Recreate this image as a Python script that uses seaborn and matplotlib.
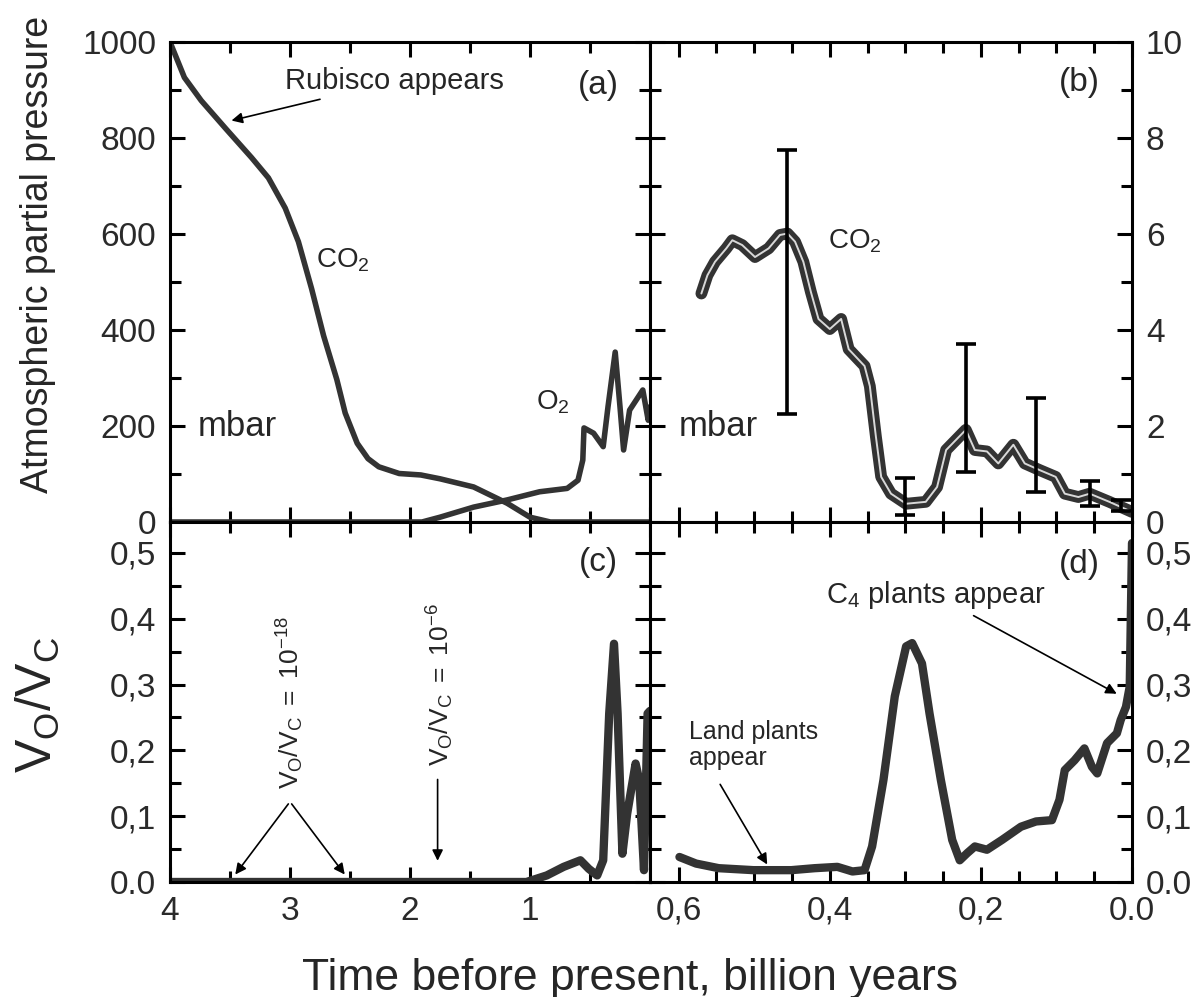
import matplotlib
matplotlib.use("Agg")
import matplotlib.pyplot as plt
import seaborn as sns

# panel (a): partial pressures in mbar vs time before present (Ga)
co2_t = [4.0, 3.88, 3.74, 3.53, 3.32, 3.18, 3.04, 2.93, 2.82, 2.72, 2.61, 2.54, 2.44,
         2.35, 2.26, 2.09, 1.91, 1.75, 1.47, 1.19, 1.0, 0.83, 0.5, 0.0]
co2_p = [1000, 926, 878, 818, 759, 717, 654, 584, 486, 388, 297, 227, 164,
         132, 115, 101, 98, 90, 73, 39, 10, 0, 0, 0]
o2_t = [4.0, 1.9, 1.75, 1.47, 1.19, 0.92, 0.69, 0.60, 0.56, 0.55, 0.47, 0.39, 0.35,
        0.29, 0.25, 0.22, 0.17, 0.06, 0.015, 0.0]
o2_p = [0, 0, 10, 31, 46, 63, 70, 87, 129, 196, 185, 157, 240,
        354, 240, 150, 233, 275, 212, 240]

# panel (b): CO2 (mbar), last 0.6 Ga, with error bars
co2b_t = [0.570, 0.562, 0.552, 0.537, 0.529, 0.516, 0.499, 0.481, 0.466, 0.456, 0.446,
          0.435, 0.425, 0.415, 0.400, 0.385, 0.375, 0.354, 0.347, 0.339, 0.332, 0.319,
          0.299, 0.273, 0.258, 0.246, 0.233, 0.220, 0.208, 0.192, 0.177, 0.157, 0.142,
          0.122, 0.101, 0.089, 0.071, 0.056, 0.030, 0.010, 0.0]
co2b_p = [4.76, 5.14, 5.42, 5.70, 5.87, 5.77, 5.52, 5.70, 5.98, 6.01, 5.84,
          5.42, 4.79, 4.23, 4.02, 4.23, 3.60, 3.25, 2.83, 1.78, 0.94, 0.59,
          0.38, 0.42, 0.73, 1.50, 1.71, 1.92, 1.50, 1.47, 1.22, 1.61, 1.22,
          1.08, 0.94, 0.59, 0.52, 0.59, 0.42, 0.28, 0.21]
err_t = [0.456, 0.300, 0.220, 0.127, 0.056, 0.015]
err_lo = [2.25, 0.15, 1.05, 0.62, 0.33, 0.22]
err_hi = [7.76, 0.92, 3.70, 2.58, 0.85, 0.45]

# panel (c): Vo/Vc over 4 Ga
vc_t = [4.0, 1.5, 1.03, 0.86, 0.72, 0.58, 0.51, 0.44, 0.39, 0.34, 0.30, 0.27, 0.23,
        0.19, 0.12, 0.09, 0.05, 0.02, 0.0]
vc_v = [0.0, 0.0, 0.0, 0.010, 0.023, 0.033, 0.020, 0.010, 0.033, 0.256, 0.362, 0.256, 0.043,
        0.104, 0.180, 0.155, 0.018, 0.256, 0.260]

# panel (d): Vo/Vc over last 0.6 Ga
vd_t = [0.599, 0.577, 0.547, 0.501, 0.451, 0.420, 0.390, 0.370, 0.354, 0.344, 0.329,
        0.314, 0.299, 0.291, 0.278, 0.268, 0.253, 0.238, 0.228, 0.218, 0.208, 0.192,
        0.172, 0.147, 0.127, 0.106, 0.096, 0.089, 0.076, 0.063, 0.053, 0.046, 0.033,
        0.020, 0.015, 0.008, 0.003, 0.0]
vd_v = [0.038, 0.028, 0.021, 0.018, 0.018, 0.021, 0.023, 0.016, 0.018, 0.054, 0.155,
        0.282, 0.358, 0.363, 0.332, 0.256, 0.155, 0.064, 0.033, 0.044, 0.054, 0.049,
        0.064, 0.084, 0.092, 0.094, 0.125, 0.170, 0.185, 0.203, 0.175, 0.165, 0.211,
        0.226, 0.246, 0.266, 0.297, 0.515]

left_xticks = [4, 3, 2, 1, 0]
left_xlabels = ["4", "3", "2", "1", ""]
right_xticks = [0.6, 0.4, 0.2, 0.0]
right_xlabels = ["0,6", "0,4", "0,2", "0.0"]
p_ticks = [0, 200, 400, 600, 800, 1000]
b_ticks = [0, 2, 4, 6, 8, 10]
v_ticks = [0.0, 0.1, 0.2, 0.3, 0.4, 0.5]
v_labels = ["0.0", "0,1", "0,2", "0,3", "0,4", "0,5"]

sns.set_style("ticks")
plt.rcParams["font.family"] = ["Liberation Sans", "DejaVu Sans"]
plt.rcParams["mathtext.fontset"] = "custom"
plt.rcParams["mathtext.rm"] = "Liberation Sans"
plt.rcParams["mathtext.it"] = "Liberation Sans"

ink = "#333333"
fig = plt.figure(figsize=(12, 9.97), dpi=100)
L, M, R = 170 / 1200, 650 / 1200, 1132 / 1200
T, MID, B = 1 - 42 / 997, 1 - 522 / 997, 1 - 882 / 997
ax_a = fig.add_axes([L, MID, M - L, T - MID])
ax_b = fig.add_axes([M, MID, R - M, T - MID])
ax_c = fig.add_axes([L, B, M - L, MID - B])
ax_d = fig.add_axes([M, B, R - M, MID - B])

for ax in (ax_a, ax_b, ax_c, ax_d):
    ax.tick_params(which="both", direction="in", top=True, right=True, bottom=True, left=True,
                   width=2.2, colors="black", labelcolor="#2a2a2a", labelsize=24, pad=10)
    ax.tick_params(which="major", length=11)
    ax.tick_params(which="minor", length=8)
    for s in ax.spines.values():
        s.set_linewidth(2.2)
        s.set_color("black")

arrow = dict(arrowstyle="-|>", color="black", lw=1.2, mutation_scale=16)

# (a)
sns.lineplot(x=co2_t, y=co2_p, ax=ax_a, color=ink, lw=4, sort=False, estimator=None)
sns.lineplot(x=o2_t, y=o2_p, ax=ax_a, color=ink, lw=4, sort=False, estimator=None)
ax_a.set_xlim(4, 0)
ax_a.set_ylim(0, 1000)
ax_a.set_xticks(left_xticks)
ax_a.set_xticks([3.5, 2.5, 1.5, 0.5], minor=True)
ax_a.set_yticks(p_ticks)
ax_a.set_yticks([100, 300, 500, 700, 900], minor=True)
ax_a.tick_params(labelbottom=False)
ax_a.text(0.43, 910, "(a)", fontsize=24, ha="center", va="center")
ax_a.text(2.78, 545, r"CO$_2$", fontsize=20, ha="left", va="center")
ax_a.text(0.95, 250, r"O$_2$", fontsize=20, ha="left", va="center")
ax_a.text(3.77, 198, "mbar", fontsize=25, ha="left", va="center")
ax_a.annotate("Rubisco appears", xy=(3.51, 835), xytext=(3.04, 918), fontsize=21,
              ha="left", va="center", arrowprops=arrow)

# (b)
sns.lineplot(x=co2b_t, y=co2b_p, ax=ax_b, color=ink, lw=8.5, sort=False, estimator=None,
             solid_capstyle="round", solid_joinstyle="round")
sns.lineplot(x=co2b_t, y=co2b_p, ax=ax_b, color="#d8d8d8", lw=1.4, sort=False, estimator=None)
mid = [(lo + hi) / 2 for lo, hi in zip(err_lo, err_hi)]
half = [(hi - lo) / 2 for lo, hi in zip(err_lo, err_hi)]
ax_b.errorbar(err_t, mid, yerr=half, fmt="none", ecolor="black", elinewidth=2.6,
              capsize=7, capthick=2.6, zorder=5)
ax_b.set_xlim(0.638, 0)
ax_b.set_ylim(0, 10)
ax_b.set_xticks(right_xticks)
ax_b.set_xticks([0.55, 0.5, 0.45, 0.35, 0.3, 0.25, 0.15, 0.1, 0.05], minor=True)
ax_b.set_yticks(b_ticks)
ax_b.set_yticks([1, 3, 5, 7, 9], minor=True)
ax_b.tick_params(labelbottom=False, labelleft=False, labelright=True)
ax_b.text(0.069, 9.15, "(b)", fontsize=24, ha="center", va="center")
ax_b.text(0.403, 5.85, r"CO$_2$", fontsize=20, ha="left", va="center")
ax_b.text(0.60, 2.0, "mbar", fontsize=25, ha="left", va="center")

# (c)
sns.lineplot(x=vc_t, y=vc_v, ax=ax_c, color=ink, lw=6, sort=False, estimator=None)
ax_c.set_xlim(4, 0)
ax_c.set_ylim(0, 0.547)
ax_c.set_xticks(left_xticks)
ax_c.set_xticklabels(left_xlabels)
ax_c.set_xticks([3.5, 2.5, 1.5, 0.5], minor=True)
ax_c.set_yticks(v_ticks)
ax_c.set_yticklabels(v_labels)
ax_c.set_yticks([0.05, 0.15, 0.25, 0.35, 0.45], minor=True)
ax_c.text(0.43, 0.485, "(c)", fontsize=24, ha="center", va="center")
ax_c.text(3.0, 0.272, r"$\mathregular{V_O/V_C\ =\ 10^{-18}}$", fontsize=19, rotation=90,
          ha="center", va="center")
ax_c.text(1.75, 0.30, r"$\mathregular{V_O/V_C\ =\ 10^{-6}}$", fontsize=19, rotation=90,
          ha="center", va="center")
ax_c.annotate("", xy=(3.47, 0.008), xytext=(3.0, 0.122), arrowprops=arrow)
ax_c.annotate("", xy=(2.53, 0.008), xytext=(3.0, 0.122), arrowprops=arrow)
ax_c.annotate("", xy=(1.77, 0.028), xytext=(1.77, 0.16), arrowprops=arrow)

# (d)
sns.lineplot(x=vd_t, y=vd_v, ax=ax_d, color=ink, lw=6, sort=False, estimator=None)
ax_d.set_xlim(0.638, 0)
ax_d.set_ylim(0, 0.547)
ax_d.set_xticks(right_xticks)
ax_d.set_xticklabels(right_xlabels)
ax_d.set_xticks([0.55, 0.5, 0.45, 0.35, 0.3, 0.25, 0.15, 0.1, 0.05], minor=True)
ax_d.set_yticks(v_ticks)
ax_d.set_yticklabels(v_labels)
ax_d.set_yticks([0.05, 0.15, 0.25, 0.35, 0.45], minor=True)
ax_d.tick_params(labelleft=False, labelright=True)
ax_d.text(0.069, 0.482, "(d)", fontsize=24, ha="center", va="center")
ax_d.annotate(r"C$_4$ plants appear", xy=(0.017, 0.284), xytext=(0.405, 0.436), fontsize=21,
              ha="left", va="center", arrowprops=arrow)
ax_d.text(0.587, 0.208, "Land plants\nappear", fontsize=18, ha="left", va="center",
          linespacing=1.1)
ax_d.annotate("", xy=(0.481, 0.023), xytext=(0.547, 0.152), arrowprops=arrow)

for ax in (ax_a, ax_b, ax_c, ax_d):
    ax.set_xlabel("")
    ax.set_ylabel("")

fig.text(0.032, 0.745, "Atmospheric partial pressure", rotation=90, ha="center", va="center",
         fontsize=27)
fig.text(0.032, 0.293, r"$\mathregular{V_O/V_C}$", rotation=90, ha="center", va="center",
         fontsize=36)
fig.text(302 / 1200, 1 - 990 / 997, "Time before present, billion years", ha="left",
         va="baseline", fontsize=32)

fig.savefig("out.png", dpi=100)
